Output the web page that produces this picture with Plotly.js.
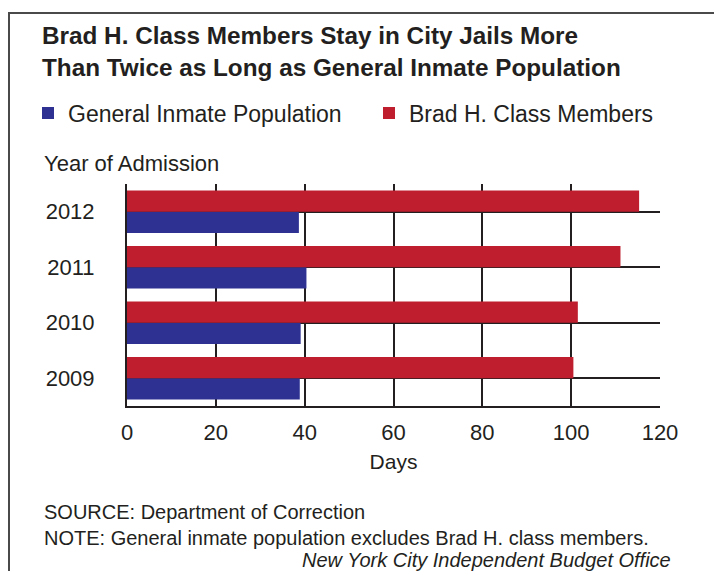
<!DOCTYPE html>
<html>
<head>
<meta charset="utf-8">
<script src="https://cdn.plot.ly/plotly-3.0.1.min.js"></script>
<style>
  html, body { margin: 0; padding: 0; background: #fff; }
  #wrap { position: relative; width: 714px; height: 571px; overflow: hidden; }
  #chart { position: absolute; left: 0; top: 0; width: 714px; height: 571px; }
  #frame { position: absolute; left: 8px; top: 12px; width: 760px; height: 620px;
           border-left: 2px solid #4a4a4a; border-top: 2px solid #4a4a4a; pointer-events: none; }
</style>
</head>
<body>
<div id="wrap">
  <div id="chart"></div>
  <div id="frame"></div>
</div>
<script>
// ---- data ----
const years = ['2012', '2011', '2010', '2009'];
const generalDays = [38.7, 40.4, 39.1, 38.9];
const bradDays = [115.3, 111.1, 101.5, 100.5];
const xTicks = [0, 20, 40, 60, 80, 100, 120];
const seriesNames = ['General Inmate Population', 'Brad H. Class Members'];

// ---- style ----
const W = 714, H = 571;
const M = { l: 127, r: 54, t: 184, b: 165 };
const plotW = W - M.l - M.r, plotH = H - M.t - M.b;
const px2x = p => (p - M.l) / plotW;
const py2y = p => 1 - (p - M.t) / plotH;
const FONT = 'Liberation Sans, Arial, sans-serif';
const TXT = '#231f20';
const BLUE = '#2e3192', RED = '#be1e2d';
const GRID = '#231f20';

const traces = [
  { type: 'bar', orientation: 'h', name: seriesNames[0], y: years, x: generalDays,
    marker: { color: BLUE }, hoverinfo: 'x+y', legend: 'legend' },
  { type: 'bar', orientation: 'h', name: seriesNames[1], y: years, x: bradDays,
    marker: { color: RED }, hoverinfo: 'x+y', legend: 'legend2' }
];

const xMax = xTicks[xTicks.length - 1];
const shapes = years.map(y => ({
  type: 'line', xref: 'x', yref: 'y', x0: 0, x1: xMax, y0: y, y1: y,
  line: { color: GRID, width: 2 }, layer: 'above'
}));

const legendBase = {
  orientation: 'h', xanchor: 'left', y: py2y(113), yanchor: 'middle',
  font: { family: FONT, size: 23, color: TXT }, bgcolor: 'rgba(0,0,0,0)'
};

const layout = {
  width: W, height: H,
  margin: M,
  paper_bgcolor: '#fff', plot_bgcolor: '#fff',
  font: { family: FONT, color: TXT, size: 22 },
  title: {
    text: 'Brad H. Class Members Stay in City Jails More<br>Than Twice as Long as General Inmate Population',
    font: { family: FONT, size: 24.3, color: TXT, weight: 'bold' },
    xref: 'container', yref: 'container', x: 42 / W, xanchor: 'left',
    y: 1 - 44 / H, yanchor: 'top'
  },
  barmode: 'group', bargap: 0.232, bargroupgap: 0,
  showlegend: true,
  legend: Object.assign({}, legendBase, { x: px2x(28) }),
  legend2: Object.assign({}, legendBase, { x: px2x(369) }),
  xaxis: {
    range: [0, xMax], tickvals: xTicks, ticktext: xTicks.map(String),
    showgrid: true, gridcolor: GRID, gridwidth: 2,
    zeroline: false, showline: true, linecolor: GRID, linewidth: 2,
    ticks: '', ticklabelstandoff: 6, tickfont: { family: FONT, size: 22, color: TXT },
    title: { text: 'Days', font: { family: FONT, size: 21, color: TXT }, standoff: 10 },
    fixedrange: true
  },
  yaxis: {
    type: 'category', categoryorder: 'array', categoryarray: years.slice().reverse(),
    range: [-0.5, years.length - 0.5],
    showgrid: true, gridcolor: GRID, gridwidth: 2,
    zeroline: false, showline: true, linecolor: GRID, linewidth: 2,
    ticks: '', ticklabelstandoff: 26, tickfont: { family: FONT, size: 22, color: TXT },
    fixedrange: true
  },
  shapes: shapes,
  annotations: [
    { text: 'Year of Admission', xref: 'paper', yref: 'paper', x: px2x(42), y: py2y(163),
      xanchor: 'left', yanchor: 'middle', showarrow: false, font: { family: FONT, size: 22, color: TXT } },
    { text: 'SOURCE: Department of Correction', xref: 'paper', yref: 'paper', x: px2x(42), y: py2y(512),
      xanchor: 'left', yanchor: 'middle', showarrow: false, font: { family: FONT, size: 20, color: TXT } },
    { text: 'NOTE: General inmate population excludes Brad H. class members.', xref: 'paper', yref: 'paper',
      x: px2x(42), y: py2y(538), xanchor: 'left', yanchor: 'middle', showarrow: false,
      font: { family: FONT, size: 20, color: TXT } },
    { text: '<i>New York City Independent Budget Office</i>', xref: 'paper', yref: 'paper',
      x: px2x(673), y: py2y(560), xanchor: 'right', yanchor: 'middle', showarrow: false,
      font: { family: FONT, size: 20, color: TXT } }
  ]
};

Plotly.newPlot('chart', traces, layout, { displayModeBar: false, staticPlot: true });
</script>
</body>
</html>
